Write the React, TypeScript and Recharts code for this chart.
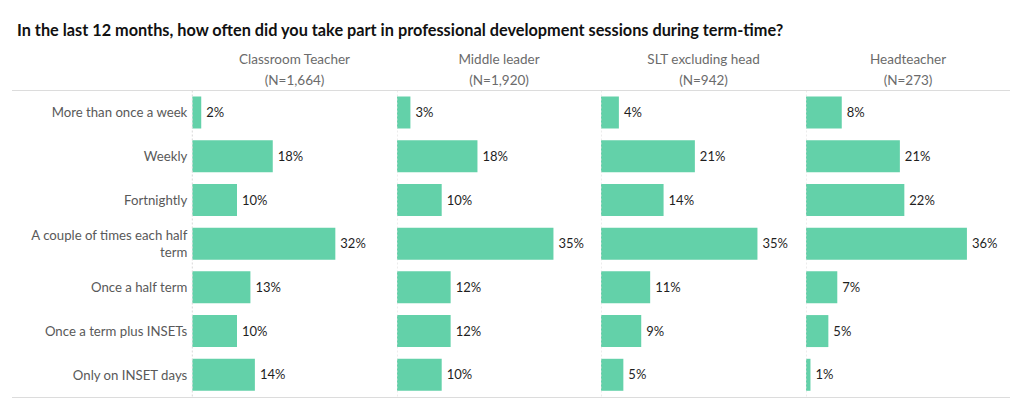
import { BarChart, Bar, XAxis, YAxis, LabelList, ReferenceLine } from "recharts";

const categories = [
  "More than once a week",
  "Weekly",
  "Fortnightly",
  "A couple of times each half term",
  "Once a half term",
  "Once a term plus INSETs",
  "Only on INSET days",
];

const groups = ["Classroom Teacher", "Middle leader", "SLT excluding head", "Headteacher"];
const groupN = ["(N=1,664)", "(N=1,920)", "(N=942)", "(N=273)"];

const classroomTeacher = [2, 18, 10, 32, 13, 10, 14];
const middleLeader = [3, 18, 10, 35, 12, 12, 10];
const sltExclHead = [4, 21, 14, 35, 11, 9, 5];
const headteacher = [8, 21, 22, 36, 7, 5, 1];

const series = [classroomTeacher, middleLeader, sltExclHead, headteacher];

const FONT = "Lato, 'Open Sans', sans-serif";
const BAR = "#63d1a9";
const PANEL_W = 204.5;
const LABEL_W = 192.3;
const TOP = 90.5;
const BOTTOM = 396.5;
const H = 410;
const TICK_FONT = 13.2;

let ctx: CanvasRenderingContext2D | null = null;
function measure(s: string) {
  if (!ctx) ctx = document.createElement("canvas").getContext("2d");
  if (!ctx) return s.length * 6.5;
  ctx.font = `${TICK_FONT}px Lato`;
  return ctx.measureText(s).width;
}

// greedy word wrap
function wrap(s: string, max: number) {
  const lines: string[] = [];
  let cur = "";
  s.split(" ").forEach((w) => {
    const next = cur ? cur + " " + w : w;
    if (cur && measure(next) > max) {
      lines.push(cur);
      cur = w;
    } else cur = next;
  });
  if (cur) lines.push(cur);
  return lines;
}

function CategoryTick(props: any) {
  const { x, y, payload } = props;
  const lines = wrap(payload.value, 165);
  const lh = 16.5;
  const start = -((lines.length - 1) * lh) / 2;
  return (
    <text
      x={x + 3}
      y={y}
      textAnchor="end"
      fill="#595959"
      fontSize={TICK_FONT}
      fontFamily={FONT}
    >
      {lines.map((l, i) => (
        <tspan key={i} x={x + 3} y={y + start + i * lh} dominantBaseline="central">
          {l}
        </tspan>
      ))}
    </text>
  );
}

function Panel({ index, showLabels }: { index: number; showLabels: boolean }) {
  const data = categories.map((c, i) => ({ name: c, value: series[index][i] }));
  const width = showLabels ? LABEL_W + PANEL_W : PANEL_W;
  return (
    <BarChart
      width={width}
      height={H}
      data={data}
      layout="vertical"
      margin={{ top: TOP, bottom: H - BOTTOM, left: 0, right: 0 }}
      barSize={32}
    >
      <XAxis type="number" domain={[0, 45.75]} hide />
      <YAxis
        type="category"
        dataKey="name"
        width={showLabels ? LABEL_W : 0}
        hide={!showLabels}
        axisLine={false}
        tickLine={false}
        tick={<CategoryTick />}
        interval={0}
      />
      <ReferenceLine x={0} stroke="#d9d9d9" strokeDasharray="2 2" />
      <Bar dataKey="value" fill={BAR} isAnimationActive={false}>
        <LabelList
          dataKey="value"
          position="right"
          offset={5}
          formatter={(v: any) => `${v}%`}
          style={{ fill: "#1f1f1f", fontSize: 13, fontFamily: FONT }}
        />
      </Bar>
    </BarChart>
  );
}

export default function App() {
  return (
    <div
      style={{
        position: "fixed",
        left: 0,
        top: 0,
        width: 1024,
        height: H,
        background: "#fff",
        fontFamily: FONT,
      }}
    >
      <div
        style={{
          position: "absolute",
          left: 17,
          top: 20,
          fontSize: 16.3,
          fontWeight: 700,
          color: "#111",
          whiteSpace: "nowrap",
        }}
      >
        In the last 12 months, how often did you take part in professional development sessions during term-time?
      </div>
      {groups.map((g, i) => (
        <div
          key={g}
          style={{
            position: "absolute",
            left: LABEL_W + i * PANEL_W,
            width: PANEL_W,
            top: 49,
            textAlign: "center",
            color: "#6b6b6b",
            fontSize: 13.5,
            lineHeight: "21px",
          }}
        >
          <div>{g}</div>
          <div>{groupN[i]}</div>
        </div>
      ))}
      <div style={{ position: "absolute", left: 12, width: 998, top: TOP - 1, height: 0, borderTop: "1.5px solid #dcdcdc" }} />
      <div style={{ position: "absolute", left: 12, width: 998, top: BOTTOM, height: 0, borderTop: "1.5px solid #dcdcdc" }} />
      {series.map((_, i) => (
        <div
          key={i}
          style={{ position: "absolute", top: 0, left: i === 0 ? 0 : LABEL_W + i * PANEL_W }}
        >
          <Panel index={i} showLabels={i === 0} />
        </div>
      ))}
    </div>
  );
}
